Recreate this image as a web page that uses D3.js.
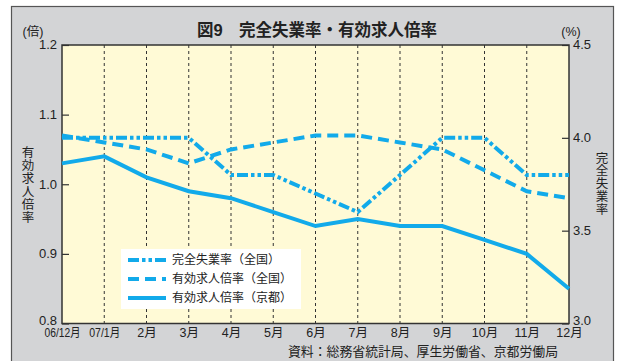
<!DOCTYPE html>
<html>
<head>
<meta charset="utf-8">
<script src="https://cdn.jsdelivr.net/npm/d3@7/dist/d3.min.js"></script>
<style>
  html, body { margin: 0; padding: 0; background: #ffffff; }
  svg { display: block; }
  text { font-family: "Liberation Sans", "Noto Sans CJK JP", sans-serif; fill: #222; }
</style>
</head>
<body>
<svg id="chart" width="621" height="361"></svg>
<script>
// Months from Dec 2006 to Dec 2007
const months = ["06/12月", "07/1月", "2月", "3月", "4月", "5月", "6月", "7月", "8月", "9月", "10月", "11月", "12月"];

// Unemployment rate, nationwide (%), right axis
const unemploymentNational = [4.0, 4.0, 4.0, 4.0, 3.8, 3.8, 3.7, 3.6, 3.8, 4.0, 4.0, 3.8, 3.8];
// Job openings-to-applicants ratio, nationwide, left axis
const ratioNational = [1.07, 1.06, 1.05, 1.03, 1.05, 1.06, 1.07, 1.07, 1.06, 1.05, 1.02, 0.99, 0.98];
// Job openings-to-applicants ratio, Kyoto, left axis
const ratioKyoto = [1.03, 1.04, 1.01, 0.99, 0.98, 0.96, 0.94, 0.95, 0.94, 0.94, 0.92, 0.90, 0.85];

const leftTicks = [0.8, 0.9, 1.0, 1.1, 1.2];
const rightTicks = [3.0, 3.5, 4.0, 4.5];

const seriesNames = ["完全失業率（全国）", "有効求人倍率（全国）", "有効求人倍率（京都）"];

const lineColor = "#12aaea";
const svg = d3.select("#chart");

const plot = { left: 62, right: 569, top: 45, bottom: 323.5 };

// outer panel
svg.append("rect")
  .attr("x", 11.5).attr("y", 6.5)
  .attr("width", 602).attr("height", 370)
  .attr("fill", "#d3d4d6")
  .attr("stroke", "#555").attr("stroke-width", 1.2);

// plot background
svg.append("rect")
  .attr("x", plot.left).attr("y", plot.top)
  .attr("width", plot.right - plot.left).attr("height", plot.bottom - plot.top)
  .attr("fill", "#fffad6");

const x = d3.scalePoint().domain(months).range([plot.left, plot.right]);
const yL = d3.scaleLinear().domain([0.8, 1.2]).range([plot.bottom, plot.top]);
const yR = d3.scaleLinear().domain([3.0, 4.5]).range([plot.bottom, plot.top]);

// vertical dashed month gridlines
svg.append("g").selectAll("line")
  .data(months.slice(1, -1))
  .join("line")
  .attr("x1", d => x(d)).attr("x2", d => x(d))
  .attr("y1", plot.top).attr("y2", plot.bottom)
  .attr("stroke", "#333").attr("stroke-width", 1)
  .attr("stroke-dasharray", "3,3");

// left axis
const gL = svg.append("g")
  .attr("transform", `translate(${plot.left},0)`)
  .call(d3.axisLeft(yL).tickValues(leftTicks).tickFormat(d3.format(".1f")).tickSize(-7).tickPadding(5));
// right axis
const gR = svg.append("g")
  .attr("transform", `translate(${plot.right},0)`)
  .call(d3.axisRight(yR).tickValues(rightTicks).tickFormat(d3.format(".1f")).tickSize(-7).tickPadding(4));
// bottom axis
const gB = svg.append("g")
  .attr("transform", `translate(0,${plot.bottom})`)
  .call(d3.axisBottom(x).tickSize(0).tickPadding(5));

[gL, gR, gB].forEach(g => {
  g.select(".domain").remove();
  g.selectAll("line").attr("stroke", "#333").attr("stroke-width", 1.2);
  g.selectAll("text").attr("font-size", 13).attr("fill", "#222")
    .attr("font-family", "'Liberation Sans', 'Noto Sans CJK JP', sans-serif");
});
gB.selectAll("text").attr("font-size", 12.5);
gB.selectAll("text").filter(d => d === months[0]).attr("textLength", 36).attr("lengthAdjust", "spacingAndGlyphs");
gB.selectAll("text").filter(d => d === months[1]).attr("textLength", 31).attr("lengthAdjust", "spacingAndGlyphs");
gL.selectAll("text").attr("dy", "0.3em");
gR.selectAll("text").attr("dy", "0.3em");
// lift the lowest value labels clear of the month labels
gL.selectAll("text").filter(d => d === leftTicks[0]).attr("dy", "0.05em");
gR.selectAll("text").filter(d => d === rightTicks[0]).attr("dy", "0.05em");

// plot frame
svg.append("rect")
  .attr("x", plot.left).attr("y", plot.top)
  .attr("width", plot.right - plot.left).attr("height", plot.bottom - plot.top)
  .attr("fill", "none").attr("stroke", "#333").attr("stroke-width", 1.5);

const dashDot = "11,3,3.5,3,3.5,3";
const dashed = "11,6";

const lineL = d3.line().x((d, i) => x(months[i])).y(d => yL(d));
const lineR = d3.line().x((d, i) => x(months[i])).y(d => yR(d));

const lines = svg.append("g");
lines.append("path").datum(ratioKyoto)
  .attr("d", lineL).attr("fill", "none")
  .attr("stroke", lineColor).attr("stroke-width", 4);
lines.append("path").datum(ratioNational)
  .attr("d", lineL).attr("fill", "none")
  .attr("stroke", lineColor).attr("stroke-width", 4)
  .attr("stroke-dasharray", dashed);
lines.append("path").datum(unemploymentNational)
  .attr("d", lineR).attr("fill", "none")
  .attr("stroke", lineColor).attr("stroke-width", 4)
  .attr("stroke-dasharray", dashDot);

// legend
const legend = svg.append("g");
legend.append("rect")
  .attr("x", 121).attr("y", 249).attr("width", 180).attr("height", 60)
  .attr("fill", "#ffffff");
const styles = [dashDot, dashed, null];
seriesNames.forEach((name, i) => {
  const yy = 260 + i * 19;
  legend.append("line")
    .attr("x1", 128).attr("x2", 166).attr("y1", yy).attr("y2", yy)
    .attr("stroke", lineColor).attr("stroke-width", 4)
    .attr("stroke-dasharray", styles[i]);
  legend.append("text")
    .attr("x", 172).attr("y", yy).attr("dy", "0.36em")
    .attr("font-size", 12).text(name);
});

// title
svg.append("text")
  .attr("x", 317).attr("y", 36)
  .attr("text-anchor", "middle")
  .attr("font-size", 16.5).attr("font-weight", "bold")
  .attr("fill", "#222")
  .text("図9　完全失業率・有効求人倍率");

// unit labels
svg.append("text").attr("x", 33).attr("y", 36).attr("text-anchor", "middle")
  .attr("font-size", 12.5).text("(倍)");
svg.append("text").attr("x", 571).attr("y", 36).attr("text-anchor", "middle")
  .attr("font-size", 12.5).text("(%)");

// vertical axis titles
function verticalText(str, cx, top, step) {
  const g = svg.append("g");
  Array.from(str).forEach((ch, i) => {
    g.append("text")
      .attr("x", cx).attr("y", top + i * step)
      .attr("text-anchor", "middle").attr("dy", "0.85em")
      .attr("font-size", 12.5).attr("fill", "#333")
      .text(ch);
  });
}
verticalText("有効求人倍率", 28, 146, 13);
verticalText("完全失業率", 602, 152, 12.8);

// source
svg.append("text")
  .attr("x", 558).attr("y", 356)
  .attr("text-anchor", "end")
  .attr("font-size", 13)
  .attr("textLength", 270).attr("lengthAdjust", "spacingAndGlyphs")
  .text("資料：総務省統計局、厚生労働省、京都労働局");
</script>
</body>
</html>
